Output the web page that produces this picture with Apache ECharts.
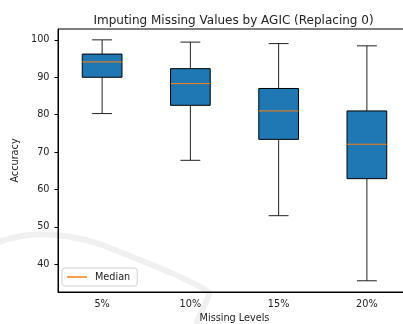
<!DOCTYPE html>
<html><head><meta charset="utf-8">
<script src="https://cdn.jsdelivr.net/npm/echarts@6/dist/echarts.min.js"></script>
<style>html,body{margin:0;padding:0;background:#fff}#c{width:403px;height:324px}</style>
</head><body><div id="c"></div>
<script>
const categories = ['5%', '10%', '15%', '20%'];
const whiskerLow = [80.3, 67.8, 53.0, 35.6];
const q1 = [90.0, 82.5, 73.4, 62.9];
const median = [94.1, 88.3, 81.0, 72.1];
const q3 = [96.2, 92.3, 87.0, 81.0];
const whiskerHigh = [100.0, 99.4, 99.0, 98.4];

const boxData = categories.map((c, i) => [i, whiskerLow[i], q1[i], median[i], q3[i], whiskerHigh[i]]);
const FONT = 'DejaVu Sans';
const TXT = '#222';
const wmStyle = {stroke: '#f0f0f0', lineWidth: 6, fill: null};

const chart = echarts.init(document.getElementById('c'), null, {renderer: 'canvas'});
chart.setOption({
  animation: false,
  backgroundColor: '#fff',
  title: {
    text: 'Imputing Missing Values by AGIC (Replacing 0)',
    left: 228.5, top: 10, textAlign: 'center',
    textStyle: {fontFamily: FONT, fontSize: 12, fontWeight: 'normal', color: TXT}
  },
  graphic: [
    {type: 'bezierCurve', z: -1, silent: true,
      shape: {x1: -5, y1: 244, cpx1: 25, cpy1: 230, cpx2: 70, cpy2: 230, x2: 120, y2: 252}, style: wmStyle},
    {type: 'bezierCurve', z: -1, silent: true,
      shape: {x1: 120, y1: 252, cpx1: 160, cpy1: 268, cpx2: 195, cpy2: 282, x2: 210, y2: 293}, style: wmStyle},
    {type: 'line', z: -1, silent: true,
      shape: {x1: 210, y1: 293, x2: 196, y2: 324}, style: wmStyle}
  ],
  legend: {
    data: [{name: 'Median', icon: 'rect'}],
    left: 62, top: 268,
    itemWidth: 20, itemHeight: 1.5, itemGap: 5,
    padding: [4, 7, 4, 5],
    borderColor: '#d0d0d0', borderWidth: 1, borderRadius: 3,
    backgroundColor: 'rgba(255,255,255,0.8)',
    textStyle: {fontFamily: FONT, fontSize: 9.7, color: TXT, padding: [0, 0, 0, 3]},
    selectedMode: false
  },
  grid: {left: 58, top: 29, width: 353, height: 263, outerBoundsMode: 'none', containLabel: false,
    show: true, borderColor: '#000', borderWidth: 1, backgroundColor: 'transparent'},
  xAxis: {
    type: 'category', data: categories, boundaryGap: true,
    name: 'Missing Levels', nameLocation: 'middle', nameGap: 20,
    nameTextStyle: {fontFamily: FONT, fontSize: 9.7, color: TXT},
    axisLine: {lineStyle: {color: '#000', width: 1}},
    axisTick: {alignWithLabel: true, length: 3.5, lineStyle: {color: '#000'}},
    axisLabel: {fontFamily: FONT, fontSize: 9.7, color: TXT, margin: 7},
    splitLine: {show: false}
  },
  yAxis: {
    type: 'value', min: 32.6, max: 102.9, splitNumber: 7,
    name: 'Accuracy', nameLocation: 'middle', nameGap: 27, nameRotate: 90,
    nameTextStyle: {fontFamily: FONT, fontSize: 9.7, color: TXT},
    axisLine: {show: true, lineStyle: {color: '#000', width: 1}},
    axisTick: {show: true, length: 3.5, lineStyle: {color: '#000'}},
    axisLabel: {fontFamily: FONT, fontSize: 9.7, color: TXT, margin: 8.5,
      showMinLabel: false, showMaxLabel: false,
      formatter: v => (Math.abs(v % 10) < 1e-6 ? String(v) : '')},
    splitLine: {show: false}
  },
  series: [{
    name: 'Median',
    type: 'custom',
    itemStyle: {color: '#ff7f0e'},
    encode: {x: 0, y: [1, 2, 3, 4, 5]},
    data: boxData,
    renderItem: function (params, api) {
      const idx = api.value(0);
      const band = api.size([1, 0])[0];
      const bw = band * 0.45, cw = bw / 2;
      const pLow = api.coord([idx, api.value(1)]);
      const pQ1 = api.coord([idx, api.value(2)]);
      const pMed = api.coord([idx, api.value(3)]);
      const pQ3 = api.coord([idx, api.value(4)]);
      const pHigh = api.coord([idx, api.value(5)]);
      const x = pMed[0];
      const ls = {stroke: '#222', lineWidth: 1};
      return {
        type: 'group',
        children: [
          {type: 'line', shape: {x1: x, y1: pQ1[1], x2: x, y2: pLow[1]}, style: ls},
          {type: 'line', shape: {x1: x, y1: pQ3[1], x2: x, y2: pHigh[1]}, style: ls},
          {type: 'line', shape: {x1: x - cw / 2, y1: pLow[1], x2: x + cw / 2, y2: pLow[1]}, style: ls},
          {type: 'line', shape: {x1: x - cw / 2, y1: pHigh[1], x2: x + cw / 2, y2: pHigh[1]}, style: ls},
          {type: 'rect', shape: {x: x - bw / 2, y: pQ3[1], width: bw, height: pQ1[1] - pQ3[1]},
            style: {fill: '#1f77b4', stroke: '#000', lineWidth: 1}},
          {type: 'line', shape: {x1: x - bw / 2, y1: pMed[1], x2: x + bw / 2, y2: pMed[1]},
            style: {stroke: '#ff7f0e', lineWidth: 1}}
        ]
      };
    }
  }]
});
</script></body></html>
